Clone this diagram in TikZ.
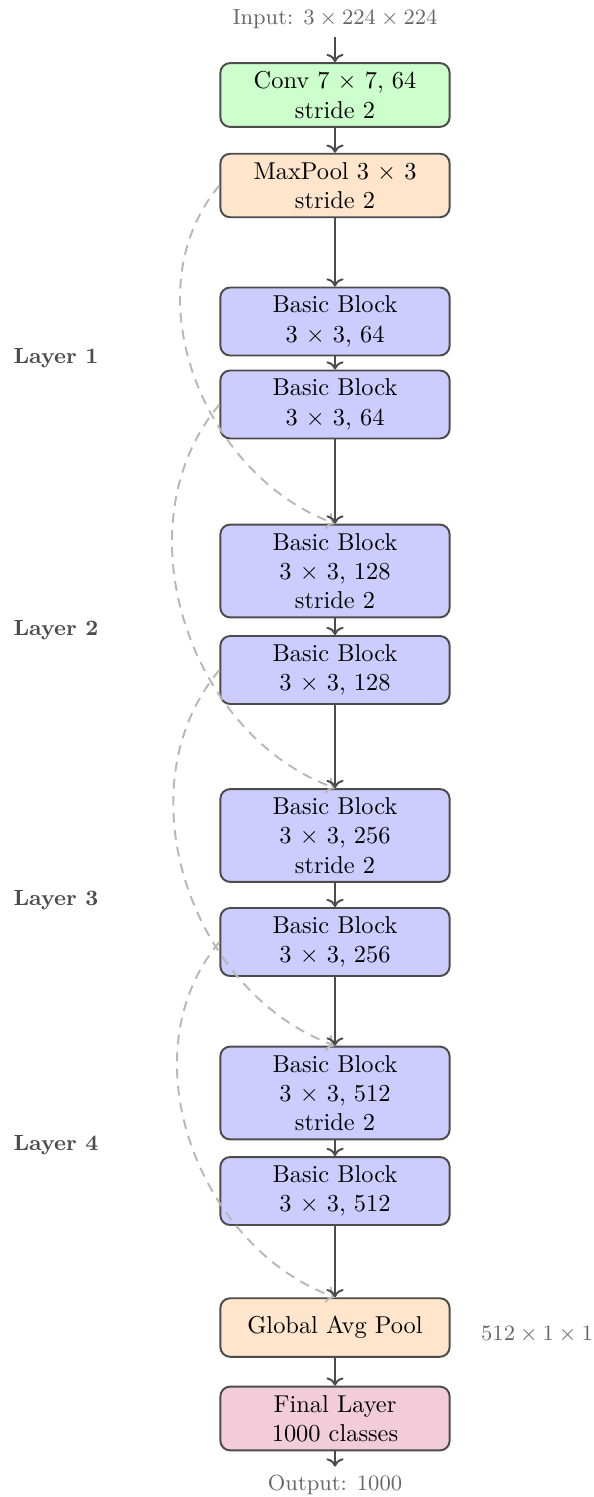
\documentclass[tikz,border=0pt]{standalone}
\usetikzlibrary{arrows.meta}
\begin{document}
\begin{tikzpicture}[x=0.41pt, y=-0.41pt,
  box/.style={draw=black!70, thick, rounded corners=4pt, minimum width=94pt,
    minimum height=24pt, align=center, inner ysep=3.5pt, text=black},
  convbox/.style={box, fill=green!20},
  poolbox/.style={box, fill=orange!20},
  blkbox/.style={box, fill=blue!20},
  fcbox/.style={box, fill=purple!20},
  arr/.style={->, thick, draw=black!70},
  skip/.style={->, thick, dash pattern=on 4pt off 3pt, draw=black!28},
  lbl/.style={font=\small\bfseries, text=black!70, anchor=west},
  io/.style={font=\small, text=black!60}]
\useasboundingbox (0,0) rectangle (594,1497);

\node[io] (in) at (335,19) {Input: $3\times224\times224$};
\node[convbox] (conv) at (335,95) {Conv 7 $\times$ 7, 64\\stride 2};
\node[poolbox] (pool) at (335,185.5) {MaxPool 3 $\times$ 3\\stride 2};
\node[blkbox] (b1) at (335,321.5) {Basic Block\\3 $\times$ 3, 64};
\node[blkbox] (b2) at (335,404.5) {Basic Block\\3 $\times$ 3, 64};
\node[blkbox] (b3) at (335,571) {Basic Block\\3 $\times$ 3, 128\\stride 2};
\node[blkbox] (b4) at (335,670) {Basic Block\\3 $\times$ 3, 128};
\node[blkbox] (b5) at (335,835.5) {Basic Block\\3 $\times$ 3, 256\\stride 2};
\node[blkbox] (b6) at (335,942) {Basic Block\\3 $\times$ 3, 256};
\node[blkbox] (b7) at (335,1093) {Basic Block\\3 $\times$ 3, 512\\stride 2};
\node[blkbox] (b8) at (335,1191) {Basic Block\\3 $\times$ 3, 512};
\node[poolbox] (gap) at (335,1327.5) {Global Avg Pool};
\node[fcbox] (fc) at (335,1418.5) {Final Layer\\1000 classes};
\node[io] (out) at (335,1485) {Output: 1000};
\node[io] (dim) at (537,1334) {$512\times1\times1$};

\node[lbl] (l1) at (5,358) {Layer 1};
\node[lbl] (l2) at (5,630) {Layer 2};
\node[lbl] (l3) at (5,900) {Layer 3};
\node[lbl] (l4) at (5,1145) {Layer 4};

\draw[skip] (pool.west) to[out=230, in=160] (b3.north);
\draw[skip] (b2.west) to[out=230, in=160] (b5.north);
\draw[skip] (b4.west) to[out=230, in=160] (b7.north);
\draw[skip] (b6.west) to[out=230, in=160] (gap.north);

\draw[arr] (in) -- (conv);
\draw[arr] (conv) -- (pool);
\draw[arr] (pool) -- (b1);
\draw[arr] (b1) -- (b2);
\draw[arr] (b2) -- (b3);
\draw[arr] (b3) -- (b4);
\draw[arr] (b4) -- (b5);
\draw[arr] (b5) -- (b6);
\draw[arr] (b6) -- (b7);
\draw[arr] (b7) -- (b8);
\draw[arr] (b8) -- (gap);
\draw[arr] (gap) -- (fc);
\draw[arr] (fc) -- (out);
\end{tikzpicture}
\end{document}
